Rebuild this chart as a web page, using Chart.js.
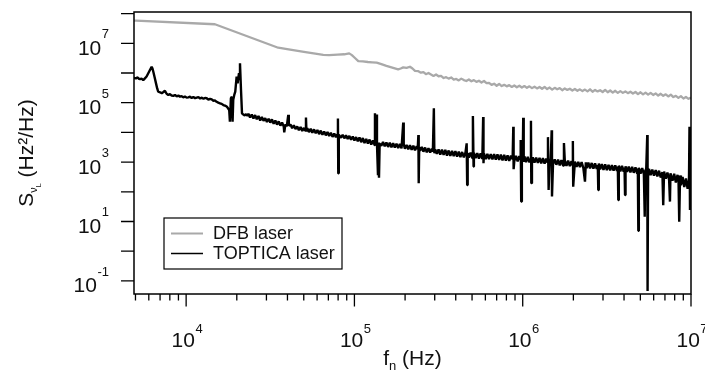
<!DOCTYPE html>
<html><head><meta charset="utf-8">
<script src="https://cdn.jsdelivr.net/npm/chart.js@4"></script>
<style>html,body{margin:0;padding:0;background:#fff;overflow:hidden}canvas{display:block}</style>
</head><body>
<canvas id="c" width="705" height="373"></canvas>
<script>
// Series names (legend order)
const seriesNames = ['DFB laser', 'TOPTICA laser'];
const seriesColors = ['#a9a9a9', '#000000'];

// DFB laser: [log10 f (Hz), log10 S (Hz^2/Hz)]
const dfbData = [
[3.690,7.76],[3.702,7.76],[4.171,7.64],[4.547,6.85],[4.600,6.80],[4.700,6.71],[4.815,6.61],[4.850,6.60],
[4.900,6.62],[4.940,6.63],[4.969,6.66],[4.985,6.60],[5.000,6.52],[5.023,6.40],[5.050,6.39],[5.080,6.37],
[5.105,6.36],[5.132,6.35],[5.160,6.30],[5.190,6.24],[5.220,6.19],[5.260,6.12],[5.275,6.15],[5.290,6.19],
[5.310,6.17],[5.330,6.21],[5.345,6.15],[5.360,6.07],
[5.380,6.06],[5.395,6.01],[5.410,6.03],[5.425,5.96],[5.440,6.00],[5.455,5.95],[5.470,5.90],[5.485,5.95],
[5.500,5.89],[5.515,5.90],[5.530,5.83],[5.545,5.86],[5.560,5.81],[5.575,5.85],[5.590,5.78],[5.605,5.80],
[5.620,5.75],[5.635,5.81],[5.650,5.76],[5.665,5.73],[5.680,5.78],[5.695,5.72],[5.710,5.76],[5.725,5.70],
[5.740,5.74],[5.755,5.68],[5.770,5.73],[5.785,5.66],[5.800,5.67],[5.815,5.60],[5.830,5.64],[5.845,5.57],
[5.860,5.63],[5.875,5.56],[5.890,5.60],[5.905,5.55],[5.920,5.59],[5.935,5.53],[5.950,5.58],[5.965,5.52],
[5.980,5.57],[5.995,5.51],[6.010,5.56],[6.025,5.50],[6.040,5.55],[6.055,5.49],[6.070,5.54],[6.085,5.48],
[6.100,5.53],[6.115,5.47],[6.130,5.53],[6.145,5.46],[6.160,5.51],[6.175,5.44],[6.190,5.50],[6.205,5.45],
[6.220,5.49],[6.235,5.42],[6.250,5.48],[6.265,5.43],[6.280,5.47],[6.295,5.41],[6.310,5.46],[6.325,5.40],
[6.340,5.45],[6.355,5.39],[6.370,5.44],[6.385,5.38],[6.400,5.45],[6.415,5.37],[6.430,5.43],[6.445,5.38],
[6.460,5.42],[6.475,5.36],[6.490,5.43],[6.505,5.35],[6.520,5.41],[6.535,5.34],[6.550,5.40],[6.565,5.33],
[6.580,5.39],[6.595,5.33],[6.610,5.38],[6.625,5.32],[6.640,5.37],[6.655,5.31],[6.670,5.36],[6.685,5.29],
[6.700,5.35],[6.715,5.28],[6.730,5.34],[6.745,5.27],[6.760,5.33],[6.775,5.26],[6.790,5.31],[6.805,5.24],
[6.820,5.30],[6.835,5.23],[6.850,5.28],[6.865,5.21],[6.880,5.27],[6.895,5.19],[6.910,5.23],[6.925,5.16],
[6.940,5.22],[6.955,5.14],[6.970,5.19],[6.985,5.13],[7.000,5.17]
];

// TOPTICA laser: [log10 f (Hz), log10 S (Hz^2/Hz)]
const topticaData = [
[3.690,5.83],[3.702,5.82],[3.712,5.85],[3.720,5.80],[3.726,5.79],[3.735,5.81],[3.745,5.76],[3.755,5.82],
[3.765,5.88],[3.775,5.99],[3.785,6.10],[3.795,6.21],[3.800,6.15],[3.805,6.04],[3.813,5.85],[3.821,5.65],
[3.828,5.48],[3.834,5.37],[3.845,5.35],[3.855,5.32],[3.865,5.36],[3.874,5.40],[3.884,5.30],[3.894,5.26],
[3.904,5.29],[3.914,5.24],[3.924,5.23],[3.934,5.26],[3.944,5.21],[3.954,5.24],[3.963,5.20],[3.973,5.22],
[3.983,5.18],[3.993,5.21],[4.003,5.17],[4.013,5.18],[4.023,5.20],[4.033,5.16],[4.043,5.19],[4.053,5.15],
[4.063,5.17],[4.073,5.19],[4.083,5.14],[4.093,5.17],[4.103,5.13],[4.112,5.16],[4.122,5.15],[4.132,5.10],
[4.142,5.13],[4.152,5.11],[4.162,5.06],[4.171,5.08],[4.181,5.03],[4.191,5.00],[4.201,4.98],[4.211,4.96],
[4.221,4.92],[4.231,4.90],[4.241,4.87],[4.248,4.82],[4.256,4.75],[4.260,4.36],[4.266,5.15],[4.272,5.20],
[4.276,4.36],[4.280,5.10],[4.286,5.26],[4.292,5.37],[4.300,5.88],[4.306,5.65],[4.314,5.99],[4.317,5.80],
[4.320,6.33],[4.326,5.43],[4.332,4.64],[4.340,4.60],[4.348,4.57],[4.356,4.61],[4.364,4.56],
[4.37,4.63],[4.38,4.50],[4.39,4.60],[4.40,4.47],[4.41,4.58],[4.42,4.44],[4.43,4.55],[4.44,4.40],
[4.45,4.52],[4.46,4.39],[4.47,4.48],[4.48,4.35],[4.49,4.46],[4.50,4.33],[4.51,4.44],[4.52,4.29],
[4.53,4.40],[4.54,4.26],[4.55,4.37],[4.56,4.23],[4.57,4.33],[4.580,4.20],[4.583,4.00],[4.590,4.27],
[4.598,4.20],[4.607,4.59],[4.610,4.22],[4.62,4.27],[4.63,4.14],[4.64,4.24],[4.65,4.11],[4.66,4.20],
[4.67,4.07],[4.68,4.18],[4.69,4.05],[4.70,4.15],[4.707,4.06],[4.712,4.50],[4.715,4.03],[4.72,4.14],
[4.73,4.01],[4.74,4.12],[4.75,3.99],[4.76,4.10],[4.77,3.97],[4.78,4.08],[4.79,3.94],[4.80,4.06],
[4.81,3.92],[4.82,4.03],[4.83,3.90],[4.84,4.01],[4.85,3.88],[4.86,3.99],[4.87,3.85],[4.88,3.96],
[4.89,3.84],[4.898,3.93],[4.902,4.47],[4.904,2.62],[4.907,3.92],[4.92,3.82],[4.93,3.92],[4.94,3.80],
[4.95,3.90],[4.96,3.78],[4.97,3.88],[4.98,3.75],[4.99,3.86],[5.00,3.73],[5.01,3.84],[5.02,3.70],
[5.03,3.83],[5.04,3.67],[5.05,3.81],[5.06,3.64],[5.07,3.78],[5.08,3.62],[5.09,3.76],[5.10,3.59],
[5.11,3.73],[5.12,3.57],[5.122,4.64],[5.126,3.70],[5.130,4.60],[5.134,3.60],[5.140,2.56],[5.143,3.66],
[5.146,2.47],[5.150,3.62],[5.16,3.55],[5.17,3.68],[5.18,3.53],[5.19,3.66],[5.20,3.51],[5.21,3.65],
[5.22,3.50],[5.23,3.64],[5.24,3.49],[5.25,3.62],[5.26,3.47],[5.27,3.61],[5.28,3.46],[5.290,4.33],
[5.293,3.60],[5.30,3.45],[5.31,3.58],[5.32,3.43],[5.33,3.57],[5.34,3.41],[5.35,3.55],[5.36,3.40],
[5.37,3.53],[5.376,3.44],[5.380,3.91],[5.382,2.29],[5.385,3.50],[5.39,3.38],[5.40,3.51],[5.41,3.35],
[5.42,3.49],[5.43,3.33],[5.44,3.47],[5.45,3.32],[5.46,3.45],[5.466,3.35],[5.472,4.81],[5.475,3.30],
[5.48,3.43],[5.49,3.28],[5.50,3.43],[5.51,3.25],[5.52,3.42],[5.53,3.24],[5.54,3.41],[5.55,3.22],
[5.56,3.39],[5.57,3.21],[5.58,3.38],[5.59,3.20],[5.60,3.37],[5.61,3.18],[5.62,3.35],[5.63,3.17],
[5.64,3.34],[5.65,3.16],[5.66,3.33],[5.667,3.63],[5.670,2.23],[5.673,3.30],[5.68,3.15],[5.69,3.32],
[5.70,3.14],[5.704,4.55],[5.708,2.85],[5.71,3.31],[5.72,3.13],[5.73,3.30],[5.74,3.12],[5.75,3.29],
[5.76,3.11],[5.765,4.52],[5.767,2.96],[5.77,3.29],[5.78,3.10],[5.79,3.28],[5.80,3.10],[5.81,3.27],
[5.82,3.09],[5.83,3.27],[5.84,3.08],[5.85,3.26],[5.86,3.07],[5.87,3.25],[5.88,3.06],[5.89,3.24],
[5.90,3.05],[5.91,3.23],[5.92,3.04],[5.93,3.22],[5.940,3.10],[5.944,4.19],[5.946,2.76],[5.95,3.03],
[5.96,3.21],[5.97,3.02],[5.98,3.20],[5.985,3.10],[5.988,3.74],[5.991,1.67],[5.995,3.19],[6.000,3.05],
[6.003,4.49],[6.006,3.01],[6.01,3.19],[6.02,3.00],[6.03,3.18],[6.04,2.99],[6.045,3.10],[6.049,4.39],
[6.051,2.29],[6.055,3.12],[6.06,3.16],[6.07,2.98],[6.08,3.15],[6.09,2.97],[6.10,3.14],[6.11,2.96],
[6.12,3.13],[6.13,2.95],[6.14,3.12],[6.146,3.00],[6.150,3.84],[6.154,2.06],[6.16,3.11],[6.166,2.96],
[6.172,4.07],[6.174,1.84],[6.18,2.92],[6.19,3.09],[6.20,2.91],[6.21,3.08],[6.22,2.89],[6.23,3.07],
[6.24,2.88],[6.245,3.64],[6.25,3.06],[6.26,2.87],[6.27,3.05],[6.28,2.86],[6.29,3.03],[6.295,2.90],
[6.298,3.71],[6.300,2.17],[6.31,3.02],[6.32,2.84],[6.33,3.01],[6.34,2.83],[6.35,3.00],[6.36,2.81],
[6.370,2.34],[6.375,2.99],[6.38,2.80],[6.39,2.98],[6.40,2.79],[6.41,2.97],[6.42,2.78],[6.43,2.96],
[6.44,2.77],[6.446,2.90],[6.449,2.06],[6.452,2.95],[6.46,2.75],[6.47,2.93],[6.48,2.74],[6.49,2.92],
[6.50,2.73],[6.51,2.91],[6.52,2.72],[6.53,2.90],[6.54,2.71],[6.55,2.89],[6.56,2.70],[6.565,2.85],
[6.568,1.72],[6.571,2.88],[6.58,2.69],[6.59,2.87],[6.60,2.68],[6.605,2.82],[6.608,1.89],[6.611,2.86],
[6.62,2.67],[6.63,2.85],[6.64,2.65],[6.65,2.84],[6.66,2.64],[6.67,2.82],[6.68,2.62],[6.684,2.78],
[6.687,0.69],[6.690,2.81],[6.70,2.61],[6.71,2.80],[6.72,2.59],[6.725,1.16],[6.728,2.70],[6.734,2.78],
[6.740,3.91],[6.742,-1.34],[6.745,2.58],[6.75,2.77],[6.76,2.56],[6.77,2.75],[6.78,2.54],[6.79,2.73],
[6.80,2.52],[6.81,2.71],[6.82,2.48],[6.830,2.66],[6.835,1.55],[6.840,2.68],[6.85,2.44],[6.86,2.65],
[6.87,2.40],[6.875,1.67],[6.878,2.62],[6.89,2.37],[6.90,2.61],[6.91,2.31],[6.92,2.57],[6.926,2.35],
[6.930,0.99],[6.935,2.55],[6.94,2.22],[6.95,2.50],[6.96,2.16],[6.97,2.45],[6.98,2.10],[6.988,2.40],
[6.991,4.19],[6.994,1.39],[6.997,2.30],[7.000,2.20]
];

// Axis ranges and ticks
const xRange = [4900, 1e7];
const yRange = [0.0362, 1.13e8];
const xTickDecades = [3, 4, 5, 6];
const xTickMultipliers = [1, 2, 3, 4, 5, 6, 7, 8, 9];
const xLabelExponents = ['4', '5', '6', '7'];
const yTickExponents = [-1, 0, 1, 2, 3, 4, 5, 6, 7, 8];
const yLabelExponents = ['-1', '1', '3', '5', '7'];
const xTitleParts = [['f', 21, 0], ['n', 13, 5], [' (Hz)', 21, 0]];
const yTitleParts = [['S', 21, 0], ['\u03BD', 11, 4], ['L', 7, 7.5], [' (Hz\u00B2/Hz)', 21, 0]];

const FONT = '"Liberation Sans", Arial, Helvetica, sans-serif';
const toXY = arr => arr.map(p => ({ x: Math.pow(10, p[0]), y: Math.pow(10, p[1]) }));

function partsWidth(ctx, parts) {
  let w = 0;
  parts.forEach(([t, s]) => { ctx.font = s + 'px ' + FONT; w += ctx.measureText(t).width; });
  return w;
}
function drawParts(ctx, parts, x, y) {
  ctx.textAlign = 'left'; ctx.textBaseline = 'alphabetic';
  parts.forEach(([t, s, dy]) => { ctx.font = s + 'px ' + FONT; ctx.fillText(t, x, y + dy); x += ctx.measureText(t).width; });
}
function drawPower(ctx, exp, x, y, expRise, align) {
  ctx.font = '21px ' + FONT; const wb = ctx.measureText('10').width;
  ctx.font = '13px ' + FONT; const we = ctx.measureText(exp).width;
  const x0 = align === 'right' ? x - we - wb - 0.5 : x - (wb + we + 0.5) / 2;
  ctx.textAlign = 'left'; ctx.textBaseline = 'alphabetic';
  ctx.font = '21px ' + FONT; ctx.fillText('10', x0, y);
  ctx.font = '13px ' + FONT; ctx.fillText(exp, x0 + wb + 0.5, y - expRise);
}

const axesPlugin = {
  id: 'axesPlugin',
  afterDraw(chart) {
    const { ctx, chartArea: a } = chart;
    const xs = chart.scales.x, ys = chart.scales.y;
    ctx.save();
    ctx.fillStyle = '#000'; ctx.strokeStyle = '#000';
    ctx.lineWidth = 1.5;
    ctx.strokeRect(a.left, a.top, a.right - a.left, a.bottom - a.top);
    // ticks
    ctx.lineWidth = 1.3;
    ctx.beginPath();
    yTickExponents.forEach(e => {
      const py = ys.getPixelForValue(Math.pow(10, e));
      ctx.moveTo(a.left - 13, py); ctx.lineTo(a.left, py);
    });
    const xTicks = [];
    xTickDecades.forEach(d => xTickMultipliers.forEach(m => xTicks.push([m * Math.pow(10, d), m === 1])));
    xTicks.push([1e7, true]);
    xTicks.forEach(([v, major]) => {
      if (v < xRange[0] || v > xRange[1]) return;
      const px = xs.getPixelForValue(v);
      ctx.moveTo(px, a.bottom); ctx.lineTo(px, a.bottom + (major ? 12.5 : 6.5));
    });
    ctx.stroke();
    // tick labels
    ctx.fillStyle = '#111';
    yLabelExponents.forEach(e => {
      const py = ys.getPixelForValue(Math.pow(10, Number(e)));
      drawPower(ctx, e, a.left - 25, py + 11.5, 16.5, 'right');
    });
    xLabelExponents.forEach(e => {
      const px = xs.getPixelForValue(Math.pow(10, Number(e)));
      drawPower(ctx, e, px + 1, 347, 14, 'center');
    });
    // axis titles
    const xw = partsWidth(ctx, xTitleParts);
    drawParts(ctx, xTitleParts, (a.left + a.right) / 2 - xw / 2, 365);
    const yw = partsWidth(ctx, yTitleParts);
    ctx.save();
    ctx.translate(33, (a.top + a.bottom) / 2 + yw / 2);
    ctx.rotate(-Math.PI / 2);
    drawParts(ctx, yTitleParts, 0, 0);
    ctx.restore();
    // legend
    ctx.fillStyle = '#fff'; ctx.fillRect(164, 218, 178, 51);
    ctx.lineWidth = 1.2; ctx.strokeStyle = '#000';
    ctx.strokeRect(164, 218, 178, 51);
    const legY = [233.5, 253.5];
    const legW = [2, 1.5];
    seriesNames.forEach((name, i) => {
      ctx.strokeStyle = seriesColors[i]; ctx.lineWidth = legW[i];
      ctx.beginPath(); ctx.moveTo(171, legY[i]); ctx.lineTo(203, legY[i]); ctx.stroke();
      ctx.fillStyle = '#111'; ctx.font = '18px ' + FONT;
      ctx.textAlign = 'left'; ctx.textBaseline = 'middle';
      ctx.fillText(name, 213, legY[i] + 0.5);
    });
    ctx.restore();
  }
};

new Chart(document.getElementById('c'), {
  type: 'scatter',
  data: {
    datasets: [
      { label: seriesNames[1], data: toXY(topticaData), borderColor: seriesColors[1], borderWidth: 2.4,
        showLine: true, pointRadius: 0, borderJoinStyle: 'bevel', tension: 0, order: 2 },
      { label: seriesNames[0], data: toXY(dfbData), borderColor: seriesColors[0], borderWidth: 2.3,
        showLine: true, pointRadius: 0, borderJoinStyle: 'round', tension: 0, order: 1 }
    ]
  },
  options: {
    responsive: false, animation: false, devicePixelRatio: 1,
    layout: { padding: { left: 134, right: 14, top: 12, bottom: 79 } },
    plugins: { legend: { display: false }, tooltip: { enabled: false } },
    scales: {
      x: { type: 'logarithmic', min: xRange[0], max: xRange[1], display: false },
      y: { type: 'logarithmic', min: yRange[0], max: yRange[1], display: false }
    }
  },
  plugins: [axesPlugin]
});
</script>
</body></html>
